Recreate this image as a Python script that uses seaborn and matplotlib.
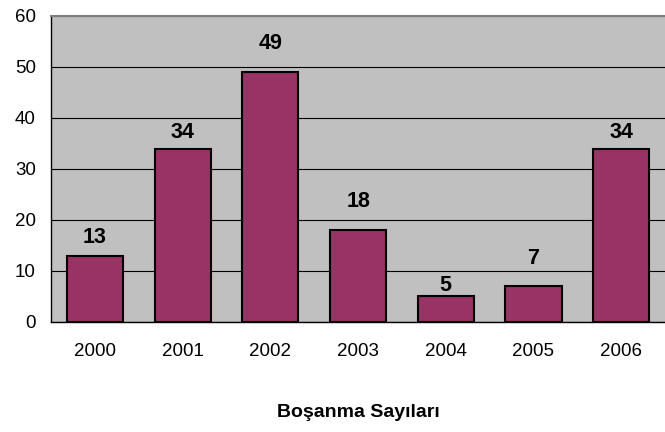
import seaborn as sns
import matplotlib.pyplot as plt
import pandas as pd

years = ["2000", "2001", "2002", "2003", "2004", "2005", "2006"]
counts = [13, 34, 49, 18, 5, 7, 34]
xlabel = "Boşanma Sayıları"

# label distance above each bar (pixels), as placed in the original
label_offsets = [18, 16, 29, 29, 11, 28, 16]

def createBarPlot():
    sns.set_style("white")
    plt.rcParams['font.family'] = ['Liberation Sans', 'DejaVu Sans']
    plt.rcParams['text.color'] = 'black'
    plt.rcParams['xtick.color'] = 'black'
    plt.rcParams['ytick.color'] = 'black'
    plt.rcParams['axes.labelcolor'] = 'black'

    df = pd.DataFrame({"year": years, "count": counts})

    fig = plt.figure(figsize=(6.65, 4.32), dpi=100)
    ax = fig.add_axes([0.077, 0.255, 0.923, 0.708])
    ax.set_facecolor("#C0C0C0")

    sns.barplot(data=df, x="year", y="count", color="#993366", width=0.64,
                edgecolor="black", linewidth=1.5, saturation=1, ax=ax, zorder=3)

    for i, v in enumerate(counts):
        ax.annotate(str(v), (i, v), xytext=(0, label_offsets[i]), textcoords="offset pixels",
                    ha="center", va="center", fontsize=15.5, fontweight="bold", zorder=4)

    ax.set_ylim(0, 60)
    ax.set_yticks(range(0, 61, 10))
    ax.set_xlim(-0.5, 6.5)
    ax.yaxis.grid(True, color="black", linewidth=0.8, zorder=1)
    ax.set_axisbelow(True)

    # ticks between categories
    ax.set_xticks([i + 0.5 for i in range(-1, 7)], minor=True)
    ax.tick_params(axis="x", which="minor", length=5, width=0.8, color="black", direction="out")
    ax.tick_params(axis="x", which="major", length=0, labelsize=13.5, pad=15)
    ax.tick_params(axis="y", length=6, width=0.8, color="black", direction="out", labelsize=13.5, pad=5)

    for side in ["left", "bottom"]:
        ax.spines[side].set_color("black")
        ax.spines[side].set_linewidth(1.0)
    ax.spines["top"].set_color("#808080")
    ax.spines["top"].set_linewidth(1.5)
    ax.spines["right"].set_visible(False)

    ax.set_ylabel("")
    ax.set_xlabel(xlabel, fontsize=14, fontweight="bold", labelpad=32)

    fig.savefig("out.png", dpi=100)


if __name__ == '__main__':
    createBarPlot()
